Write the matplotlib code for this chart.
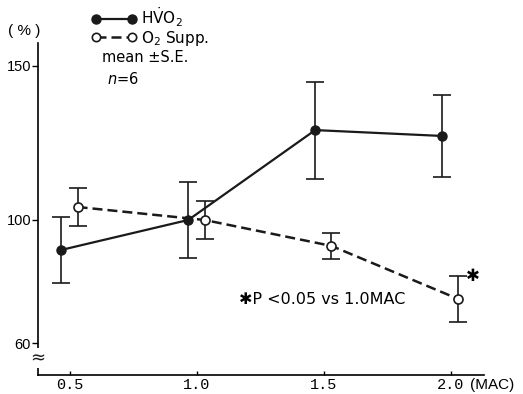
import matplotlib
matplotlib.use("Agg")
import matplotlib.pyplot as plt
from matplotlib.lines import Line2D

# MAC levels and group means / S.E. (percent of 1.0 MAC value)
mac = [0.5, 1.0, 1.5, 2.0]
hvo2_mean = [90.3, 100.0, 129.1, 127.2]
hvo2_se = [10.6, 12.2, 15.7, 13.4]
o2_mean = [104.2, 100.0, 91.6, 74.4]
o2_se = [6.0, 6.2, 4.2, 7.3]

yticks = [60, 100, 150]
xticks = [0.5, 1.0, 1.5, 2.0]
xticklabels = ["0.5", "1.0", "1.5", "2.0"]

fig = plt.figure(figsize=(5.23, 3.94), dpi=100)
ax = fig.add_axes([38 / 523, 19 / 394, 446 / 523, 332 / 394])

col = "#1a1a1a"
off_h, off_o = -0.034, 0.03

ax.errorbar([m + off_h for m in mac], hvo2_mean, yerr=hvo2_se, color=col,
            lw=1.6, marker="o", ms=6.5, mfc=col, mec=col,
            elinewidth=1.2, capsize=6.5, capthick=1.2, zorder=3)
ax.errorbar([m + off_o for m in mac], o2_mean, yerr=o2_se, color=col,
            lw=1.8, ls=(0, (4, 2)), marker="o", ms=6.5, mfc="white", mec=col,
            mew=1.2, elinewidth=1.2, capsize=6.5, capthick=1.2, zorder=4)

ax.set_xlim(0.374, 2.131)
ax.set_ylim(49.8, 157.3)
for s in ["top", "right"]:
    ax.spines[s].set_visible(False)
ax.spines["left"].set_linewidth(1.2)
ax.spines["bottom"].set_linewidth(1.2)

ax.set_yticks(yticks)
ax.set_yticklabels([str(v) for v in yticks], fontsize=10.5,
                   family=["Liberation Sans Narrow", "Liberation Sans"])
ax.tick_params(axis="y", direction="out", length=4, width=1.0, pad=1)
ax.set_xticks(xticks)
ax.set_xticklabels(xticklabels, fontsize=11, family="Liberation Mono")
ax.tick_params(axis="x", direction="in", length=3, width=1.0, pad=2)

# axis break on y
ax.text(0, 55.3, "\u2248", transform=ax.get_yaxis_transform(),
        ha="center", va="center", fontsize=13, color=col,
        bbox=dict(boxstyle="square,pad=0.05", fc="white", ec="none"))

fig.text(24 / 523, 1 - 31 / 394, "( % )", ha="center", va="center",
         fontsize=11, family="Liberation Sans")
fig.text(470 / 523, 1 - 385 / 394, "(MAC)", ha="left", va="center",
         fontsize=11, family="Liberation Sans")

h1 = Line2D([], [], color=col, lw=1.6, marker="o", ms=6.5, mfc=col, mec=col)
h2 = Line2D([], [], color=col, lw=1.8, ls=(0, (4, 2)), marker="o", ms=6,
            mfc="white", mec=col, mew=1.2)
leg_kw = dict(loc="center left", numpoints=2, frameon=False, borderpad=0,
              borderaxespad=0, handlelength=3.0, handletextpad=0.25,
              fontsize=11)
leg1 = fig.legend([h1], [r"H$\dot{\mathrm{V}}$O$_2$"],
                  bbox_to_anchor=(91 / 523, 1 - 17 / 394), **leg_kw)
fig.legend([h2], [r"O$_2$ Supp."],
           bbox_to_anchor=(91 / 523, 1 - 38 / 394), **leg_kw)

fig.text(102 / 523, 1 - 58 / 394, "mean \u00b1S.E.", ha="left", va="center",
         fontsize=10.5)
fig.text(107 / 523, 1 - 79 / 394, r"$n$=6", ha="left", va="center",
         fontsize=10.5)

ax.text(1.165, 74.2, "\u2731P <0.05 vs 1.0MAC", ha="left", va="center",
        fontsize=11.5)
ax.text(2.087, 81.8, "\u2731", ha="center", va="center", fontsize=12)

fig.savefig("out.png", dpi=100)
